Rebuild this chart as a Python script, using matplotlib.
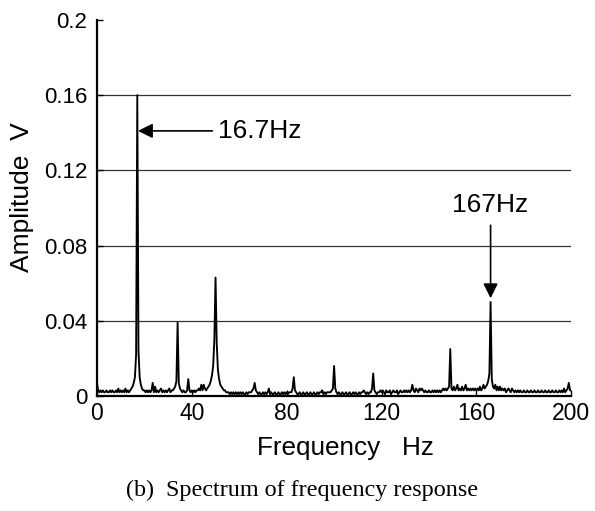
import numpy as np
import matplotlib

matplotlib.use('Agg')  # backend to non-interactive
import matplotlib.pyplot as plt

# frequency bins of the spectrum (0.5 Hz resolution, 0..200 Hz)
bin_step = 0.5
freq_max = 200

# amplitude, in mV, one row per 10 Hz
amp_mv = [
    7, 3, 2, 3, 2, 3, 2, 2, 3, 2, 2, 3, 2, 3, 2, 2, 3, 2, 4, 2,          # 0-9.5
    3, 2, 3, 2, 4, 2, 3, 2, 3, 4, 5, 7, 10, 22, 160, 24, 10, 6, 4, 3,    # 10-19.5
    3, 2, 3, 2, 3, 2, 3, 7, 2, 5, 2, 3, 2, 3, 4, 2, 3, 2, 3, 2,          # 20-29.5
    3, 4, 2, 3, 3, 4, 5, 8, 39, 7, 4, 3, 2, 3, 2, 2, 3, 9, 3, 2,         # 30-39.5
    3, 2, 3, 2, 3, 3, 4, 3, 6, 3, 6, 4, 3, 4, 5, 6, 8, 11, 16, 30,       # 40-49.5
    63, 28, 14, 9, 6, 5, 4, 3, 3, 2, 2, 2, 1, 2, 1, 2, 1, 2, 1, 2,       # 50-59.5
    1, 2, 1, 2, 1, 1, 2, 1, 2, 2, 2, 3, 4, 7, 3, 2, 1, 2, 1, 1,          # 60-69.5
    2, 1, 2, 1, 2, 4, 1, 2, 1, 1, 2, 1, 1, 2, 1, 1, 2, 1, 2, 1,          # 70-79.5
    2, 1, 2, 2, 2, 4, 10, 3, 2, 1, 1, 2, 1, 1, 2, 1, 1, 2, 1, 1,         # 80-89.5
    2, 1, 1, 2, 1, 1, 2, 1, 2, 2, 3, 1, 2, 1, 2, 2, 2, 2, 3, 4,          # 90-99.5
    16, 4, 2, 1, 2, 1, 1, 2, 1, 1, 2, 1, 1, 2, 1, 1, 2, 1, 2, 1,         # 100-109.5
    1, 2, 1, 2, 2, 3, 2, 1, 2, 1, 2, 2, 4, 12, 3, 2, 1, 2, 2, 3,         # 110-119.5
    2, 3, 2, 1, 3, 2, 2, 3, 1, 2, 3, 2, 2, 3, 1, 2, 3, 2, 2, 3,          # 120-129.5
    2, 3, 2, 3, 2, 3, 6, 3, 2, 4, 3, 2, 4, 3, 4, 3, 2, 3, 2, 2,          # 130-139.5
    3, 2, 2, 3, 2, 3, 2, 3, 2, 3, 2, 3, 4, 3, 4, 3, 4, 5, 25, 4,         # 140-149.5
    3, 5, 3, 4, 6, 3, 4, 3, 5, 3, 4, 6, 3, 4, 3, 4, 3, 4, 3, 4,          # 150-159.5
    3, 4, 3, 5, 3, 4, 6, 4, 5, 6, 8, 12, 50, 9, 5, 4, 6, 3, 5, 3,        # 160-169.5
    5, 3, 4, 3, 4, 2, 3, 4, 3, 2, 4, 3, 2, 3, 2, 3, 2, 3, 2, 2,          # 170-179.5
    3, 2, 2, 3, 2, 2, 3, 2, 2, 3, 2, 2, 3, 2, 2, 3, 2, 2, 3, 2,          # 180-189.5
    2, 3, 2, 2, 3, 2, 2, 3, 2, 2, 3, 2, 3, 2, 4, 2, 3, 4, 7, 3,          # 190-199.5
    3,                                                                    # 200
]

y_ticks = [0, 0.04, 0.08, 0.12, 0.16, 0.2]
y_tick_labels = ['0', '0.04', '0.08', '0.12', '0.16', '0.2']
x_ticks = [0, 40, 80, 120, 160, 200]

freq = np.arange(0, freq_max + bin_step / 2, bin_step)
amp = np.array(amp_mv) / 1000.0

plt.rcParams['font.family'] = ['Liberation Sans', 'DejaVu Sans']

fig = plt.figure(figsize=(5.95, 5.11), dpi=100)
ax = fig.add_axes([0.163, 0.225, 0.797, 0.736])

ax.plot(freq, amp, color='black', lw=1.35)

ax.set_xlim(0, 200)
ax.set_ylim(0, 0.2)
ax.set_xticks(x_ticks)
ax.set_yticks(y_ticks)
ax.set_yticklabels(y_tick_labels)
ax.tick_params(axis='both', labelsize=16, direction='in', length=4, width=1)
ax.tick_params(axis='y', pad=7)
ax.tick_params(axis='x', labelsize=16.5, pad=4)

# horizontal grid only, no line at the top value
for yv in y_ticks[1:-1]:
    ax.axhline(yv, color='#333333', lw=0.9, zorder=0)

for side in ['top', 'right']:
    ax.spines[side].set_visible(False)
for side in ['left', 'bottom']:
    ax.spines[side].set_linewidth(1.6)

# annotations
ax.annotate('16.7Hz', xy=(17.3, 0.141), xytext=(51, 0.141),
            fontsize=19, va='center', ha='left',
            arrowprops=dict(arrowstyle='-|>', color='black', lw=1.2,
                            mutation_scale=22, shrinkA=2, shrinkB=0))
ax.annotate('167Hz', xy=(166, 0.052), xytext=(166, 0.1016),
            fontsize=19, va='center', ha='center',
            arrowprops=dict(arrowstyle='-|>', color='black', lw=1.2,
                            mutation_scale=22, shrinkA=4, shrinkB=0))

fig.text(0.037, 0.614, 'Amplitude  V', rotation=90, fontsize=19,
         ha='center', va='center')
fig.text(0.58, 0.123, 'Frequency   Hz', fontsize=18.8, ha='center', va='center')
fig.text(0.507, 0.041, '(b)  Spectrum of frequency response',
         family='Liberation Serif', fontsize=17.4, ha='center', va='center')

fig.savefig('out.png', dpi=100)
plt.close(fig)
